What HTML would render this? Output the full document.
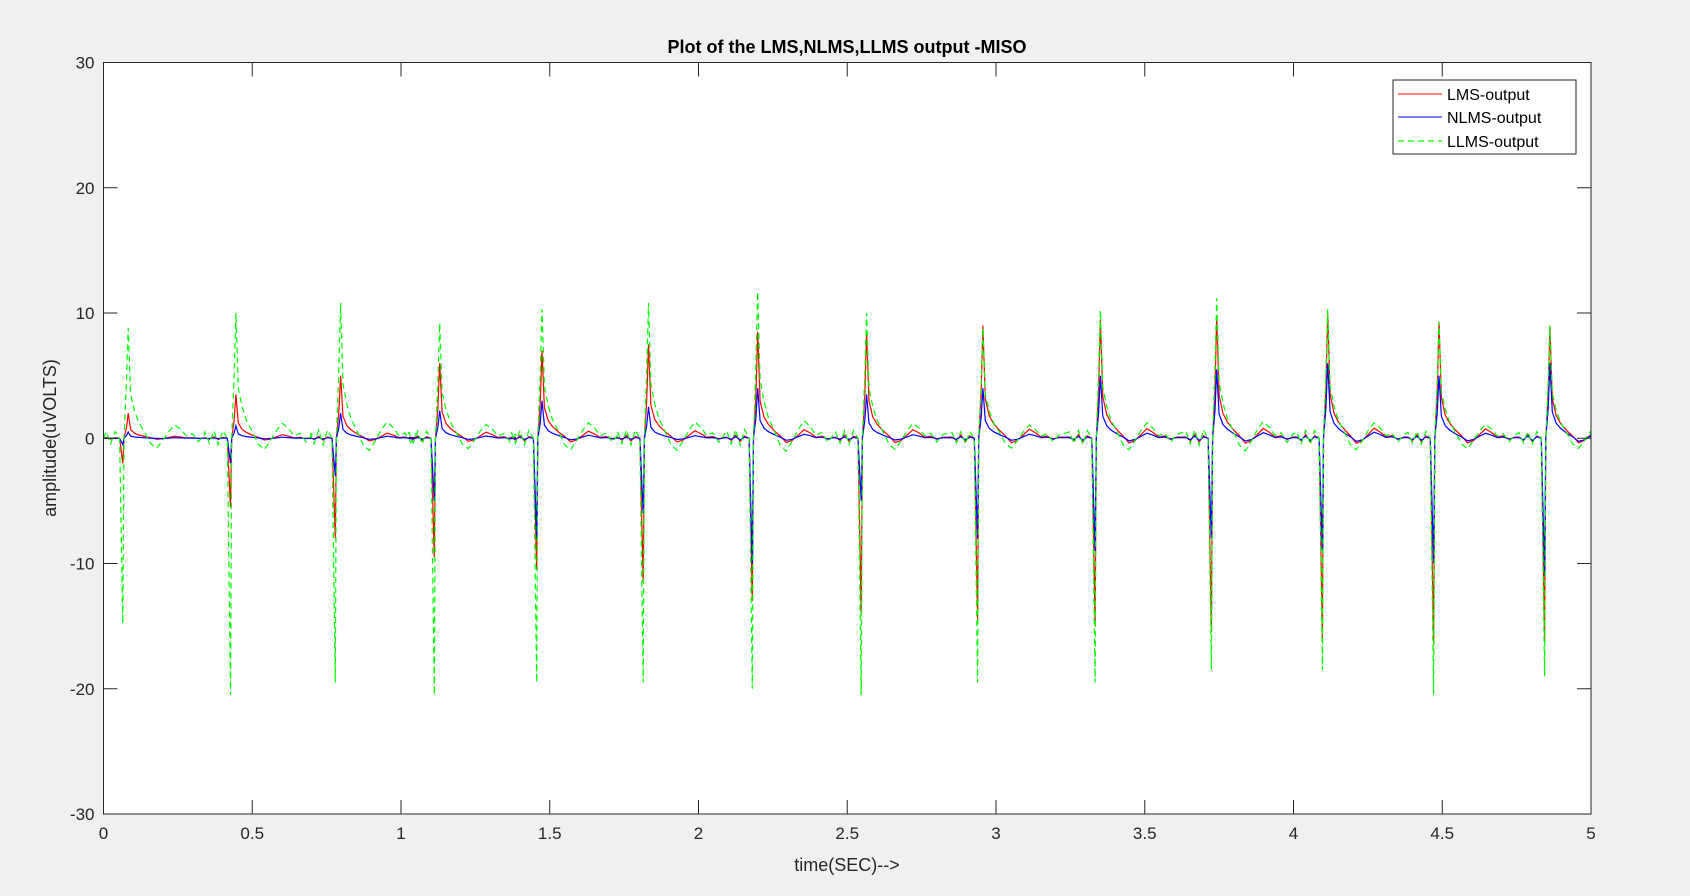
<!DOCTYPE html>
<html><head><meta charset="utf-8"><style>
html,body{margin:0;padding:0;background:#f0f0f0;}
svg{display:block;font-family:"Liberation Sans",Arial,sans-serif;}
</style></head><body>
<svg id="chart" width="1690" height="896" viewBox="0 0 1690 896">
<rect x="0" y="0" width="1690" height="896" fill="#f0f0f0"/>
<rect x="103.5" y="62.5" width="1487.5" height="751.5" fill="#fff"/>
<g id="series"></g>
<rect x="103.5" y="62.5" width="1487.5" height="751.5" fill="none" stroke="#262626" stroke-width="1"/>
<g id="ticks"></g>
<text x="847" y="53" text-anchor="middle" font-size="18" font-weight="bold" fill="#000">Plot of the LMS,NLMS,LLMS output -MISO</text>
<text x="847" y="871" text-anchor="middle" font-size="18" fill="#262626">time(SEC)--&gt;</text>
<text transform="translate(56,438) rotate(-90)" text-anchor="middle" font-size="18" fill="#262626">amplitude(uVOLTS)</text>
<g>
<rect x="1393" y="80" width="183" height="74" fill="#fff" stroke="#262626" stroke-width="1"/>
<g><line x1="1398" y1="94" x2="1442" y2="94" stroke="#f00" stroke-width="1"/><text x="1447" y="100" font-size="16" fill="#000">LMS-output</text></g>
<g><line x1="1398" y1="117" x2="1442" y2="117" stroke="#00f" stroke-width="1"/><text x="1447" y="123" font-size="16" fill="#000">NLMS-output</text></g>
<g><line x1="1398" y1="141" x2="1442" y2="141" stroke="#0f0" stroke-width="1.2" stroke-dasharray="6,4"/><text x="1447" y="147" font-size="16" fill="#000">LLMS-output</text></g>
</g>
</svg>
<script>
const beatTimes=[0.069,0.431,0.783,1.116,1.460,1.818,2.185,2.551,2.942,3.337,3.728,4.101,4.475,4.848];
const lmsMin=[-2,-5.5,-8,-9.5,-10.5,-11.5,-13,-14,-14.5,-15,-15.5,-16,-16.5,-16.2];
const lmsMax=[2,3.5,5,6,7,7.5,8.5,8.5,9,9.5,9.8,10,9.3,9];
const nlmsMin=[-0.5,-2,-3,-5,-8,-6,-10,-5,-8,-9,-8,-9,-10,-11];
const nlmsMax=[0.5,1,2,2.2,3,2.5,4,3.5,4,5,5.5,6,5,6];
const llmsMin=[-14.8,-20.5,-19.5,-20.5,-19.5,-19.5,-20,-20.5,-19.5,-19.5,-18.5,-18.5,-20.5,-19];
const llmsMax=[8.8,10,10.8,9.2,10.3,10.8,11.7,10,8.8,10.2,11.2,10.3,9.3,9];
const tplOffsets=[-0.09,-0.075,-0.06,-0.045,-0.03,-0.015,-0.004,0.0,0.008,0.014,0.022,0.035,0.05,0.07,0.09,0.11,0.13,0.15,0.17,0.19,0.21,0.23,0.25,0.27];
const tplNeg=[0,0,0,0,0,0,1,0,0,0,0,0,0,0,0,0,0,0,0,0,0,0,0,0];
const tplPos=[0.01,-0.02,0.03,-0.03,0.02,0,0,0,0.4,1,0.35,0.2,0.13,0.07,0.02,-0.04,-0.02,0.03,0.08,0.05,0.01,0.02,-0.01,0.01];
const tplPosLL=[0.05,-0.04,0.06,-0.05,0.06,0,0,0,0.5,1,0.4,0.25,0.14,0.05,-0.05,-0.09,-0.02,0.06,0.12,0.08,0.02,0.04,-0.03,0.03];
const xTicks=[0,0.5,1,1.5,2,2.5,3,3.5,4,4.5,5];
const yTicks=[-30,-20,-10,0,10,20,30];
const X0=103.5,X1=1591,Y0=814,Y1=62.5;
const sx=t=>X0+(t-0)/(5-0)*(X1-X0);
const sy=v=>Y0-(v+30)/60*(Y0-Y1);
const NS="http://www.w3.org/2000/svg";
const ticks=document.getElementById('ticks');
xTicks.forEach(t=>{
 const l=document.createElementNS(NS,'line');
 l.setAttribute('x1',sx(t));l.setAttribute('x2',sx(t));l.setAttribute('y1',Y0);l.setAttribute('y2',Y0-14);
 l.setAttribute('stroke','#262626');
 
 
 ticks.appendChild(l);
 const l2=l.cloneNode();l2.setAttribute('y1',Y1);l2.setAttribute('y2',Y1+14);ticks.appendChild(l2);
 const tx=document.createElementNS(NS,'text');
 tx.setAttribute('x',sx(t));tx.setAttribute('y',Y0+25);tx.setAttribute('text-anchor','middle');tx.setAttribute('font-size','17');tx.setAttribute('fill','#262626');
 tx.textContent=String(t);
 
 
 ticks.appendChild(tx);
});
yTicks.forEach(v=>{
 const l=document.createElementNS(NS,'line');
 l.setAttribute('x1',X0);l.setAttribute('x2',X0+14);l.setAttribute('y1',sy(v));l.setAttribute('y2',sy(v));
 l.setAttribute('stroke','#262626');
 
 
 ticks.appendChild(l);
 const l2=l.cloneNode();l2.setAttribute('x1',X1);l2.setAttribute('x2',X1-14);ticks.appendChild(l2);
 const tx=document.createElementNS(NS,'text');
 tx.setAttribute('x',X0-9);tx.setAttribute('y',sy(v)+6);tx.setAttribute('text-anchor','end');tx.setAttribute('font-size','17');tx.setAttribute('fill','#262626');
 tx.textContent=String(v);
 
 
 ticks.appendChild(tx);
});
function buildPts(mins,maxs,pos){
 const pts=[[0,0]];
 beatTimes.forEach((bt,i)=>{
  tplOffsets.forEach((o,k)=>{
   const v=tplNeg[k]*mins[i]+pos[k]*maxs[i];
   const t=bt+o;
   if(t>0&&t<5)pts.push([t,v]);
  });
 });
 pts.push([5,0]);
 return pts.map(p=>sx(p[0]).toFixed(1)+','+sy(p[1]).toFixed(1)).join(' ');
}
const g=document.getElementById('series');
const defs=[['lms-line',lmsMin,lmsMax,tplPos,'#f00',null],['nlms-line',nlmsMin,nlmsMax,tplPos,'#00f',null],['llms-line',llmsMin,llmsMax,tplPosLL,'#0f0','6,4']];
defs.forEach(d=>{
 const p=document.createElementNS(NS,'polyline');
 p.setAttribute('points',buildPts(d[1],d[2],d[3]));
 p.setAttribute('fill','none');p.setAttribute('stroke',d[4]);p.setAttribute('stroke-width','1.2');
 if(d[5])p.setAttribute('stroke-dasharray',d[5]);
 
 
 g.appendChild(p);
});
</script>
</body></html>
